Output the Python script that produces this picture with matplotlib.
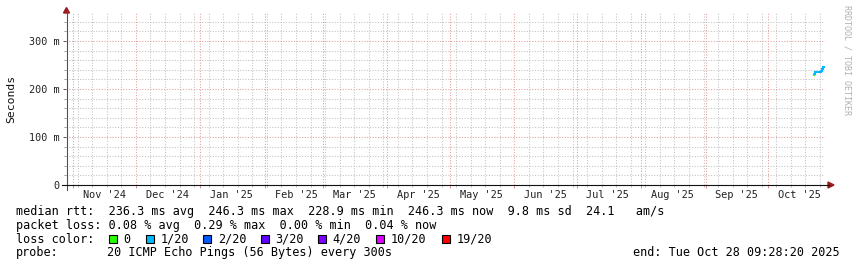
import datetime as dt
import matplotlib
matplotlib.use("Agg")
import matplotlib.pyplot as plt
import matplotlib.dates as mdates
from matplotlib.lines import Line2D
from matplotlib.patches import Polygon, Rectangle
from matplotlib.ticker import MultipleLocator, FuncFormatter, NullFormatter
import matplotlib.transforms as mtransforms

# ---- data ----
end_time = dt.datetime(2025, 10, 28, 9, 28, 20)
span_days = 365
step_hours = 12
hours_before_end = [132, 120, 108, 96, 84, 72, 60, 48, 36, 24, 12, 0]
median_ms = [228.9, 231.5, 234.8, 235.2, 235.0, 234.6, 235.3, 235.1, 237.5, 241.0, 244.8, 246.3]
smoke_lo_ms = [226.5, 229.0, 233.5, 234.0, 234.0, 233.5, 234.0, 234.0, 236.0, 239.5, 243.5, 245.0]
smoke_hi_ms = [231.0, 233.5, 236.0, 236.5, 236.0, 235.5, 236.5, 236.0, 239.0, 242.5, 246.0, 247.5]
loss_bucket = [0, 0, 1, 1, 1, 1, 1, 1, 1, 1, 1, 1]

loss_labels = ["0", "1/20", "2/20", "3/20", "4/20", "10/20", "19/20"]
loss_colors = ["#26ff00", "#00b8ff", "#0059ff", "#5e00ff", "#7e00ff", "#dd00ff", "#ff0000"]

month_starts = [dt.datetime(2024, 11, 1), dt.datetime(2024, 12, 1), dt.datetime(2025, 1, 1),
                dt.datetime(2025, 2, 1), dt.datetime(2025, 3, 1), dt.datetime(2025, 4, 1),
                dt.datetime(2025, 5, 1), dt.datetime(2025, 6, 1), dt.datetime(2025, 7, 1),
                dt.datetime(2025, 8, 1), dt.datetime(2025, 9, 1), dt.datetime(2025, 10, 1)]
month_labels = ["Nov '24", "Dec '24", "Jan '25", "Feb '25", "Mar '25", "Apr '25",
                "May '25", "Jun '25", "Jul '25", "Aug '25", "Sep '25", "Oct '25"]

rtt_avg, rtt_max, rtt_min, rtt_now = 236.3, 246.3, 228.9, 246.3
rtt_sd, rtt_ams = 9.8, 24.1
loss_avg, loss_max, loss_min, loss_now = 0.08, 0.29, 0.00, 0.04
probe_text = "20 ICMP Echo Pings (56 Bytes) every 300s"

# ---- layout ----
W, H = 857, 267
MONO = "DejaVu Sans Mono"
plt.rcParams["font.family"] = [MONO]


def fx(x):
    return x / W


def fy(y):
    return 1 - y / H


fig = plt.figure(figsize=(W / 100, H / 100), dpi=100)
fig.patch.set_facecolor("white")
ax = fig.add_axes([fx(66), fy(185), 759 / W, (185 - 13) / H])
ax.set_facecolor("white")
for s in ax.spines.values():
    s.set_visible(False)

start_time = end_time - dt.timedelta(days=span_days)
ax.set_xlim(start_time, end_time)
ax.set_ylim(0, 0.3583)

# grid
ax.xaxis.set_major_locator(mdates.MonthLocator())
ax.xaxis.set_minor_locator(mdates.WeekdayLocator(byweekday=mdates.SU))
ax.xaxis.set_major_formatter(NullFormatter())
ax.xaxis.set_minor_formatter(NullFormatter())
ax.yaxis.set_major_locator(MultipleLocator(0.1))
ax.yaxis.set_minor_locator(MultipleLocator(0.02))
ax.yaxis.set_major_formatter(FuncFormatter(lambda v, p: "0" if v == 0 else "%d m" % round(v * 1000)))
ax.grid(which="minor", color="#c2c2c2", linestyle=(0, (1, 1.6)), linewidth=0.75)
ax.grid(which="major", color="#e29c9c", linestyle=(0, (1, 1.6)), linewidth=0.75)
ax.set_axisbelow(True)
ax.tick_params(axis="y", which="major", length=2.2, width=0.7, color="#555555",
               labelsize=7.3, pad=2.5, labelcolor="#222222")
ax.tick_params(axis="y", which="minor", length=1.5, width=0.7, color="#999999")
ax.tick_params(axis="x", which="major", length=2.2, width=0.7, color="#d09090")
ax.tick_params(axis="x", which="minor", length=1.5, width=0.7, color="#bbbbbb")

# month labels, centred mid-month like rrdtool
blend = mtransforms.blended_transform_factory(ax.transData, fig.transFigure)
for m, lab in zip(month_starts, month_labels):
    ax.text(m + dt.timedelta(days=15), fy(198), lab, transform=blend, ha="center",
            va="baseline", fontsize=7.4, color="#222222", clip_on=False)

# smoke + median
step = dt.timedelta(hours=step_hours)
times = [end_time - dt.timedelta(hours=h) for h in hours_before_end]
for i, t in enumerate(times):
    ax.fill_between([t - step, t], [smoke_lo_ms[i] / 1000] * 2, [smoke_hi_ms[i] / 1000] * 2,
                    color="#2a2a2a", linewidth=0)
for i, t in enumerate(times):
    c = loss_colors[loss_bucket[i]]
    v = median_ms[i] / 1000
    ax.plot([t - step, t], [v, v], color=c, linewidth=1.5, solid_capstyle="butt")
    if i > 0:
        ax.plot([t - step, t - step], [median_ms[i - 1] / 1000, v], color=c, linewidth=1.5)

# axes lines and arrows
arrow_c = "#9b1b1b"
fig.add_artist(Line2D([fx(66.5), fx(66.5)], [fy(190), fy(10)], color="#505050", linewidth=0.8))
fig.add_artist(Line2D([fx(62), fx(829)], [fy(185), fy(185)], color="#111111", linewidth=0.8))
fig.add_artist(Polygon([[fx(63.5), fy(13)], [fx(69.5), fy(13)], [fx(66.5), fy(7.5)]],
                       closed=True, color=arrow_c, transform=fig.transFigure))
fig.add_artist(Polygon([[fx(828), fy(182)], [fx(828), fy(188)], [fx(834), fy(185)]],
                       closed=True, color=arrow_c, transform=fig.transFigure))

fig.text(fx(11), fy(99), "Seconds", rotation=90, ha="center", va="center", fontsize=8.2,
         color="#111111")
fig.text(fx(847.5), fy(60), "RRDTOOL / TOBI OETIKER", rotation=270, ha="center", va="center",
         fontsize=6.0, color="#b0b0b0")

# legend text
fs = 8.48
line1 = "median rtt:  %5.1f ms avg  %5.1f ms max  %5.1f ms min  %5.1f ms now  %3.1f ms sd  %4.1f   am/s" % (
    rtt_avg, rtt_max, rtt_min, rtt_now, rtt_sd, rtt_ams)
line2 = "packet loss: %4.2f %% avg  %4.2f %% max  %4.2f %% min  %4.2f %% now" % (
    loss_avg, loss_max, loss_min, loss_now)
fig.text(fx(16), fy(215.3), line1, fontsize=fs, va="baseline", color="black")
fig.text(fx(16), fy(229), line2, fontsize=fs, va="baseline", color="black")
fig.text(fx(16), fy(242.7), "loss color:", fontsize=fs, va="baseline", color="black")
box_x = [109, 146, 203.3, 261, 318.3, 375.7, 442.3]
for bx, lab, c in zip(box_x, loss_labels, loss_colors):
    fig.add_artist(Rectangle((fx(bx), fy(243)), 8 / W, 8 / H, facecolor=c, edgecolor="black",
                             linewidth=0.8, transform=fig.transFigure))
    fig.text(fx(bx + 14.5), fy(242.7), lab, fontsize=fs, va="baseline", color="black")
fig.text(fx(16), fy(256.3), "probe:", fontsize=fs, va="baseline", color="black")
fig.text(fx(107.3), fy(256.3), probe_text, fontsize=fs, va="baseline", color="black")
fig.text(fx(840), fy(256.3), "end: " + end_time.strftime("%a %b %d %H:%M:%S %Y"), fontsize=fs,
         va="baseline", ha="right", color="black")

fig.savefig("out.png", dpi=100, facecolor="white")
